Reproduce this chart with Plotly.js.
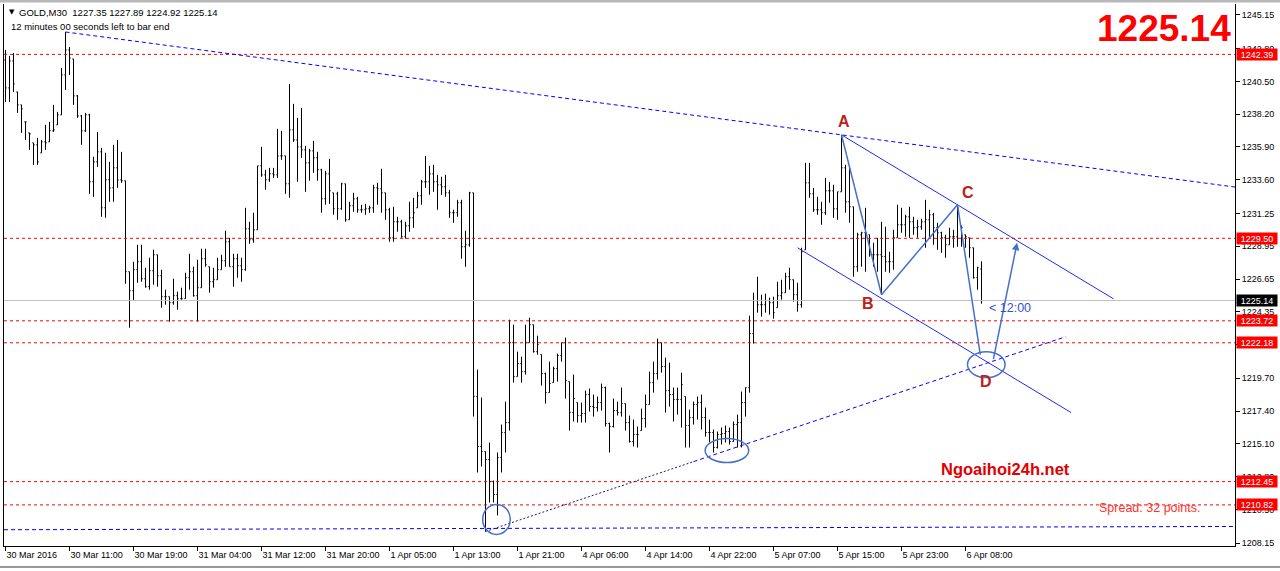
<!DOCTYPE html>
<html><head><meta charset="utf-8">
<script src="https://cdn.plot.ly/plotly-3.0.1.min.js"></script>
<style>html,body{margin:0;padding:0;background:#fff;overflow:hidden}#chart{width:1280px;height:571px}</style>
</head><body><div id="chart"></div>
<script>
// ---------------- data (GOLD, M30) ----------------
const open=[1242.00,1240.04,1241.93,1239.76,1238.85,1237.66,1236.89,1236.19,1236.05,1235.49,
1236.26,1236.26,1237.03,1237.45,1238.15,1240.95,1242.70,1242.07,1239.48,1238.08,
1237.03,1238.15,1233.46,1234.86,1235.56,1231.64,1233.60,1233.04,1234.44,1233.60,
1233.53,1227.16,1225.83,1227.30,1227.86,1226.67,1226.11,1227.23,1228.35,1226.88,
1225.41,1225.41,1224.99,1225.48,1225.27,1225.27,1226.74,1227.16,1225.48,1226.04,
1228.07,1227.51,1226.46,1226.60,1227.30,1227.93,1229.26,1227.51,1228.07,1227.58,
1227.30,1230.17,1229.40,1230.10,1234.58,1233.95,1233.60,1234.02,1233.95,1235.28,
1235.28,1233.32,1237.10,1236.40,1235.91,1235.70,1234.79,1235.63,1235.14,1234.30,
1232.27,1234.02,1232.69,1232.62,1231.57,1233.32,1230.80,1231.78,1232.27,1231.50,
1231.50,1231.57,1231.64,1233.04,1232.97,1232.69,1231.50,1229.54,1230.66,1230.66,
1229.61,1230.38,1230.94,1231.64,1232.48,1233.46,1233.46,1234.02,1233.46,1233.25,
1233.11,1232.69,1231.29,1231.29,1231.99,1228.91,1229.05,1232.69,1218.41,1214.91,
1214.56,1214.00,1212.46,1211.55,1214.14,1215.89,1216.59,1222.19,1219.81,1220.72,
1220.16,1222.19,1223.45,1221.56,1221.35,1220.02,1218.69,1219.39,1220.37,1221.28,
1222.19,1219.46,1217.29,1217.99,1217.08,1217.22,1218.55,1217.71,1217.64,1217.99,
1219.04,1216.52,1216.31,1217.43,1217.29,1217.92,1216.59,1215.26,1215.75,1216.03,
1216.87,1217.85,1219.39,1220.02,1222.19,1220.51,1218.83,1218.55,1218.20,1218.20,
1218.41,1216.38,1216.94,1217.85,1217.99,1216.94,1215.89,1215.89,1214.84,1215.75,
1215.82,1215.96,1215.26,1216.45,1216.59,1217.99,1219.04,1222.82,1225.13,1224.85,
1224.85,1225.13,1224.99,1224.64,1225.48,1225.69,1226.81,1226.60,1225.55,1224.85,
1228.70,1233.39,1232.62,1231.50,1231.50,1231.29,1232.83,1232.83,1231.57,1232.76,
1234.44,1232.06,1231.71,1227.51,1229.75,1229.89,1229.75,1228.35,1228.35,1228.35,
1228.21,1227.86,1227.86,1229.54,1230.45,1230.45,1231.01,1230.66,1230.24,1230.31,
1230.66,1230.80,1231.15,1230.24,1229.89,1229.54,1229.05,1229.61,1229.61,1230.38,
1229.75,1229.54,1228.84,1226.74,1227.35];
const high=[1242.70,1242.28,1242.49,1239.76,1238.85,1237.66,1236.89,1236.19,1236.54,1236.40,
1237.45,1237.66,1238.85,1238.36,1241.44,1243.96,1242.91,1242.07,1239.55,1238.15,
1238.29,1238.22,1235.21,1236.96,1235.84,1235.49,1234.86,1236.05,1236.40,1235.56,
1233.53,1227.16,1227.86,1229.05,1229.05,1227.44,1228.14,1228.70,1228.35,1227.30,
1225.90,1225.41,1226.67,1225.76,1226.04,1227.09,1228.42,1227.51,1228.00,1228.77,
1228.77,1227.51,1227.44,1228.14,1228.35,1230.03,1229.54,1228.42,1228.42,1228.14,
1231.64,1230.66,1231.29,1234.58,1235.91,1234.30,1234.44,1234.44,1237.17,1237.03,
1235.28,1240.32,1238.92,1237.94,1238.64,1235.98,1235.77,1236.33,1235.56,1234.37,
1234.23,1235.07,1232.69,1232.76,1233.39,1233.32,1232.06,1232.69,1232.41,1231.85,
1231.92,1231.78,1233.25,1233.39,1234.37,1232.69,1231.64,1231.71,1231.01,1230.80,
1230.66,1232.06,1232.34,1232.76,1233.60,1235.28,1234.58,1234.65,1233.95,1233.81,
1233.95,1232.90,1231.50,1232.20,1232.20,1230.03,1232.76,1232.69,1220.30,1218.34,
1214.56,1215.19,1212.53,1214.49,1216.45,1218.06,1223.80,1223.45,1221.56,1221.21,
1223.45,1223.94,1223.45,1222.68,1221.35,1220.09,1220.86,1220.51,1221.42,1222.19,
1222.54,1219.46,1219.95,1217.99,1217.99,1218.83,1218.97,1218.55,1218.41,1219.32,
1219.11,1216.59,1218.27,1218.06,1219.04,1217.92,1217.08,1216.80,1216.31,1217.57,
1218.55,1220.16,1220.86,1222.47,1222.19,1221.14,1220.79,1219.04,1219.04,1220.09,
1218.41,1217.50,1218.06,1218.41,1218.55,1217.64,1216.80,1216.10,1215.96,1216.24,
1216.38,1216.24,1216.66,1217.15,1218.76,1219.04,1224.08,1225.69,1226.81,1225.55,
1225.62,1225.34,1225.41,1226.46,1226.60,1227.09,1227.44,1226.60,1226.39,1228.84,
1234.79,1234.79,1233.04,1232.41,1232.06,1233.74,1233.46,1233.25,1232.76,1236.75,
1234.65,1234.51,1231.71,1229.89,1229.96,1231.64,1229.75,1229.19,1229.54,1230.66,
1230.31,1228.56,1230.10,1231.85,1231.64,1231.15,1231.71,1231.01,1230.80,1230.87,
1232.20,1231.50,1231.29,1230.59,1229.96,1229.75,1230.24,1230.10,1231.85,1230.38,
1229.75,1229.54,1228.84,1227.51,1227.89];
const low=[1239.06,1239.06,1239.76,1238.29,1236.89,1236.40,1235.70,1234.65,1234.65,1235.49,
1235.70,1236.26,1236.96,1237.45,1238.15,1239.90,1240.95,1238.85,1237.94,1236.05,
1236.96,1232.62,1232.41,1234.51,1231.01,1230.94,1232.06,1232.06,1233.04,1233.39,
1226.32,1223.24,1225.13,1226.39,1226.46,1226.04,1225.90,1226.25,1226.11,1224.64,
1224.85,1223.66,1224.85,1224.50,1225.20,1225.27,1225.90,1225.41,1223.66,1226.04,
1227.51,1225.69,1226.04,1226.60,1227.30,1227.51,1227.51,1226.11,1226.74,1226.46,
1227.23,1229.12,1229.19,1230.10,1233.81,1232.90,1233.46,1233.74,1233.74,1235.00,
1232.62,1232.34,1236.26,1233.46,1235.14,1232.76,1233.53,1234.09,1233.53,1231.29,
1231.85,1231.92,1231.15,1230.80,1231.50,1230.66,1230.80,1231.36,1231.29,1231.29,
1231.15,1231.29,1231.29,1231.85,1231.29,1230.80,1229.26,1229.26,1229.96,1229.54,
1229.47,1229.96,1230.24,1231.64,1231.85,1233.04,1232.55,1232.76,1231.50,1232.55,
1232.41,1230.94,1230.59,1231.01,1228.07,1227.51,1228.91,1217.01,1213.09,1213.51,
1208.96,1210.99,1210.99,1210.08,1213.09,1214.49,1216.03,1219.39,1219.81,1219.39,
1219.95,1222.19,1221.49,1221.35,1219.18,1217.92,1218.69,1219.39,1219.46,1220.86,
1218.27,1216.03,1216.66,1216.59,1216.59,1216.59,1217.36,1217.01,1217.36,1217.43,
1216.31,1214.49,1216.24,1217.08,1217.01,1216.03,1215.19,1214.91,1214.84,1216.03,
1216.24,1217.85,1218.69,1219.60,1220.09,1217.29,1217.71,1216.66,1217.15,1216.24,
1214.84,1214.84,1216.45,1216.80,1216.10,1215.61,1215.19,1214.49,1214.77,1215.05,
1215.19,1215.05,1215.26,1214.84,1214.84,1217.01,1218.69,1222.12,1224.29,1224.01,
1224.29,1224.15,1223.87,1224.64,1225.20,1225.69,1225.90,1225.06,1224.36,1224.64,
1228.70,1232.34,1231.36,1231.15,1230.45,1231.15,1231.99,1230.94,1230.80,1232.76,
1231.29,1230.59,1226.81,1227.16,1227.51,1227.16,1228.21,1227.51,1227.16,1225.55,
1227.16,1227.09,1227.30,1229.54,1229.89,1229.61,1229.54,1229.75,1229.54,1230.10,
1228.84,1229.61,1229.05,1228.70,1228.49,1228.14,1229.05,1228.84,1228.91,1228.91,
1228.84,1228.14,1226.67,1225.90,1224.92];
const close=[1240.04,1241.93,1240.32,1238.85,1238.57,1237.66,1236.82,1236.05,1234.86,1236.26,
1236.19,1237.03,1237.10,1238.15,1240.95,1242.70,1242.14,1239.48,1238.08,1237.03,
1238.15,1233.46,1234.86,1235.56,1231.64,1233.60,1233.04,1234.44,1233.60,1233.53,
1227.16,1225.83,1227.30,1227.86,1226.67,1226.11,1227.23,1228.35,1226.88,1225.41,
1225.41,1224.99,1225.48,1225.27,1225.27,1226.74,1227.16,1225.48,1226.04,1228.07,
1227.65,1226.46,1226.60,1227.30,1227.93,1229.26,1227.51,1228.07,1227.58,1227.30,
1230.17,1229.40,1230.10,1234.58,1233.95,1233.60,1234.02,1233.95,1235.28,1235.28,
1233.32,1237.10,1236.40,1235.91,1235.70,1234.79,1235.63,1235.14,1234.30,1232.27,
1234.02,1232.83,1231.57,1231.57,1233.32,1230.80,1231.78,1232.27,1231.50,1231.50,
1231.57,1231.64,1233.04,1232.97,1232.69,1231.50,1229.54,1230.66,1230.66,1229.61,
1230.38,1230.94,1231.29,1232.48,1233.46,1233.46,1234.02,1233.46,1233.25,1233.11,
1232.69,1231.29,1231.29,1231.99,1228.91,1229.05,1232.69,1218.41,1214.91,1214.56,
1214.00,1212.46,1211.55,1214.14,1215.89,1216.59,1222.19,1219.81,1220.72,1220.16,
1222.19,1223.45,1221.56,1222.05,1220.02,1218.69,1219.32,1220.37,1221.28,1222.19,
1219.53,1217.29,1218.27,1217.08,1217.22,1218.55,1217.71,1217.64,1217.99,1219.04,
1216.52,1216.31,1217.43,1217.29,1217.92,1216.59,1215.26,1215.75,1215.75,1216.87,
1217.85,1219.39,1220.02,1222.19,1220.51,1218.83,1218.55,1218.20,1218.20,1219.25,
1216.38,1216.94,1217.85,1217.99,1216.94,1215.89,1215.89,1214.84,1215.75,1215.82,
1215.96,1215.26,1216.45,1216.59,1217.99,1219.04,1222.82,1225.13,1224.85,1224.85,
1225.13,1224.99,1224.29,1225.48,1225.69,1226.81,1226.60,1225.55,1224.85,1228.56,
1233.39,1232.62,1231.50,1231.50,1231.29,1232.83,1232.83,1231.57,1232.76,1234.44,
1232.06,1231.71,1227.51,1229.75,1229.89,1229.89,1228.35,1228.35,1228.35,1228.21,
1227.86,1227.86,1229.54,1230.45,1230.45,1231.01,1230.66,1230.24,1230.31,1230.66,
1230.80,1231.15,1230.24,1229.89,1229.54,1229.05,1229.61,1229.61,1231.64,1230.24,
1229.61,1228.84,1226.74,1227.44,1225.14];

const timeLabels=["30 Mar 2016","30 Mar 11:00","30 Mar 19:00","31 Mar 04:00","31 Mar 12:00","31 Mar 20:00",
"1 Apr 05:00","1 Apr 13:00","1 Apr 21:00","4 Apr 06:00","4 Apr 14:00","4 Apr 22:00",
"5 Apr 07:00","5 Apr 15:00","5 Apr 23:00","6 Apr 08:00"];
const barsPerLabel=16;
const priceTicks=[1245.15,1242.80,1240.50,1238.20,1235.90,1233.60,1231.25,1228.95,1226.65,1224.35,
1222.05,1219.70,1217.40,1215.10,1212.80,1210.50,1208.15];
const levels=[1242.39,1229.50,1223.72,1222.18,1212.45,1210.82];
const bid=1225.14;
const symbolInfo="GOLD,M30  1227.35 1227.89 1224.92 1225.14";
const timerText="12 minutes 00 seconds left to bar end";
const spreadText="Spread: 32 points.";
const siteText="Ngoaihoi24h.net";
const countdownText="< 12:00";

// wave points (bar index of pivots)
const pivotA=209, pivotB=219, pivotC=238;

// ---------------- chart ----------------
const idx=high.map((_,i)=>i);
const X0=-0.375, X1=307.375;   // 4 px per bar
const font="Liberation Sans, Arial, sans-serif";
const waveBlue="#4470cc";

const shapes=[];
levels.forEach(v=>shapes.push({type:'line',xref:'paper',yref:'y',x0:0,x1:1,y0:v,y1:v,
  line:{color:'#ff0000',width:1,dash:'3px,3px'}}));
shapes.push({type:'line',xref:'paper',yref:'y',x0:0,x1:1,y0:bid,y1:bid,line:{color:'#c0c0c0',width:1}});

// upper long trendline: through high of bar 15 and point A, extended to right edge
const tA=high[pivotA], t0=high[15];
const slopeT=(tA-t0)/(pivotA-15);
shapes.push({type:'line',x0:15,y0:t0,x1:X1,y1:tA+slopeT*(X1-pivotA),line:{color:'#0000ff',width:1,dash:'4px,3px'}});
// lower rising trendline from the 1 Apr low
const lowEndY=1222.6, lowMid=low[120]+(lowEndY-low[120])*(52/145);
shapes.push({type:'line',x0:120,y0:low[120],x1:172,y1:lowMid,line:{color:'#1a1a6a',width:1,dash:'2px,2px'}});
shapes.push({type:'line',x0:172,y0:lowMid,x1:265,y1:lowEndY,line:{color:'#0000ff',width:1,dash:'4px,3px'}});
// long bottom trendline
shapes.push({type:'line',x0:X0,y0:1209.08,x1:X1,y1:1209.31,line:{color:'#0000ff',width:1,dash:'4px,3px'}});
// channel
const slopeC=(high[pivotC]-high[pivotA])/(pivotC-pivotA);
shapes.push({type:'line',x0:pivotA,y0:high[pivotA],x1:277,y1:high[pivotA]+slopeC*(277-pivotA),line:{color:'#1c2cf0',width:1}});
shapes.push({type:'line',x0:198,y0:1228.84,x1:266.4,y1:1217.29,line:{color:'#1c2cf0',width:1}});
// ABCD
shapes.push({type:'line',x0:pivotA,y0:high[pivotA],x1:pivotB,y1:low[pivotB],line:{color:waveBlue,width:1.5}});
shapes.push({type:'line',x0:pivotB,y0:low[pivotB],x1:pivotC,y1:high[pivotC],line:{color:waveBlue,width:1.5}});
shapes.push({type:'line',x0:pivotC,y0:high[pivotC],x1:243.7,y1:1221.35,line:{color:waveBlue,width:1.5}});
// ellipses
[[119.3,126.2,1208.75,1210.85],[174.9,185.8,1213.79,1215.47],[240.5,249.9,1219.74,1221.56]].forEach(e=>
  shapes.push({type:'circle',x0:e[0],x1:e[1],y0:e[2],y1:e[3],line:{color:waveBlue,width:1.5}}));
// window border bits
shapes.push({type:'line',xref:'paper',yref:'paper',x0:-0.01,x1:1.05,y0:1.0055,y1:1.0055,line:{color:'#b8b8b8',width:3}});
shapes.push({type:'line',xref:'paper',yref:'paper',x0:-0.01,x1:1.05,y0:-0.0387,y1:-0.0387,line:{color:'#303030',width:1}});

const ann=[];
levels.forEach(v=>ann.push({xref:'paper',yref:'y',x:1,y:v,xanchor:'left',xshift:1,text:v.toFixed(2),showarrow:false,
  bgcolor:'#ff0000',font:{family:font,size:9,color:'#ffffff'},width:40,height:11,borderpad:0}));
ann.push({xref:'paper',yref:'y',x:1,y:bid,xanchor:'left',xshift:1,text:bid.toFixed(2),showarrow:false,
  bgcolor:'#000000',font:{family:font,size:9,color:'#ffffff'},width:40,height:11,borderpad:0});
const letterFont={family:font,size:16,color:'#b8231a'};
[['A',209.5,1237.66],['B',215.5,1224.92],['C',240.7,1232.69],['D',245,1219.46]].forEach(l=>
  ann.push({x:l[1],y:l[2],text:'<b>'+l[0]+'</b>',showarrow:false,font:letterFont}));
ann.push({x:252.9,y:1229.19,ax:246.9,ay:1220.93,axref:'x',ayref:'y',text:'',showarrow:true,arrowhead:2,arrowsize:1,arrowwidth:1.5,arrowcolor:waveBlue});
ann.push({x:245.4,y:1224.64,xanchor:'left',text:countdownText,showarrow:false,font:{family:font,size:12.5,color:'#3050e0'}});
ann.push({xref:'paper',yref:'paper',x:1,xshift:-2,y:0.9557,xanchor:'right',yanchor:'middle',text:'<b>'+bid.toFixed(2)+'</b>',showarrow:false,
  font:{family:font,size:37,color:'#ff0000'}});
ann.push({x:250,y:1213.37,text:'<b>'+siteText+'</b>',showarrow:false,font:{family:font,size:16.5,color:'#e00000'}});
ann.push({x:286,y:1210.57,text:spreadText,showarrow:false,font:{family:font,size:12.5,color:'#ff3030'}});
ann.push({xref:'paper',yref:'paper',x:0.0025,y:0.9852,xanchor:'left',yanchor:'middle',text:'▼',showarrow:false,font:{family:'DejaVu Sans',size:7,color:'#000'}});
ann.push({xref:'paper',yref:'paper',x:0.0105,y:0.9852,xanchor:'left',yanchor:'middle',text:symbolInfo.replace('  ','&nbsp;&nbsp;'),showarrow:false,font:{family:font,size:9.5,color:'#000'}});
ann.push({xref:'paper',yref:'paper',x:0.004,y:0.9594,xanchor:'left',yanchor:'middle',text:timerText,showarrow:false,font:{family:font,size:9.5,color:'#000'}});

const trace={type:'ohlc',x:idx,open:open,high:high,low:low,close:close,
  increasing:{line:{color:'#000000',width:1}},decreasing:{line:{color:'#000000',width:1}},
  tickwidth:0.3,hoverinfo:'skip',showlegend:false};

const layout={width:1280,height:571,margin:{l:4,r:45,t:4,b:25,pad:0},
  paper_bgcolor:'#ffffff',plot_bgcolor:'#ffffff',showlegend:false,hovermode:false,
  xaxis:{type:'linear',range:[X0,X1],rangeslider:{visible:false},showgrid:false,zeroline:false,
    showline:true,mirror:false,linecolor:'#000',linewidth:1,ticks:'outside',ticklen:4,tickcolor:'#000',
    tickvals:timeLabels.map((_,k)=>k*barsPerLabel),ticktext:timeLabels,ticklabelposition:'outside right',
    tickfont:{family:font,size:9,color:'#000'},automargin:false,fixedrange:true},
  yaxis:{side:'right',range:[1207.94,1245.92],showgrid:false,zeroline:false,showline:true,mirror:true,
    linecolor:'#000',linewidth:1,ticks:'outside',ticklen:4,tickcolor:'#000',tickvals:priceTicks,
    ticktext:priceTicks.map(v=>v.toFixed(2)),tickfont:{family:font,size:9,color:'#000'},automargin:false,fixedrange:true},
  shapes:shapes,annotations:ann};
Plotly.newPlot('chart',[trace],layout,{displayModeBar:false,staticPlot:true});
</script></body></html>
